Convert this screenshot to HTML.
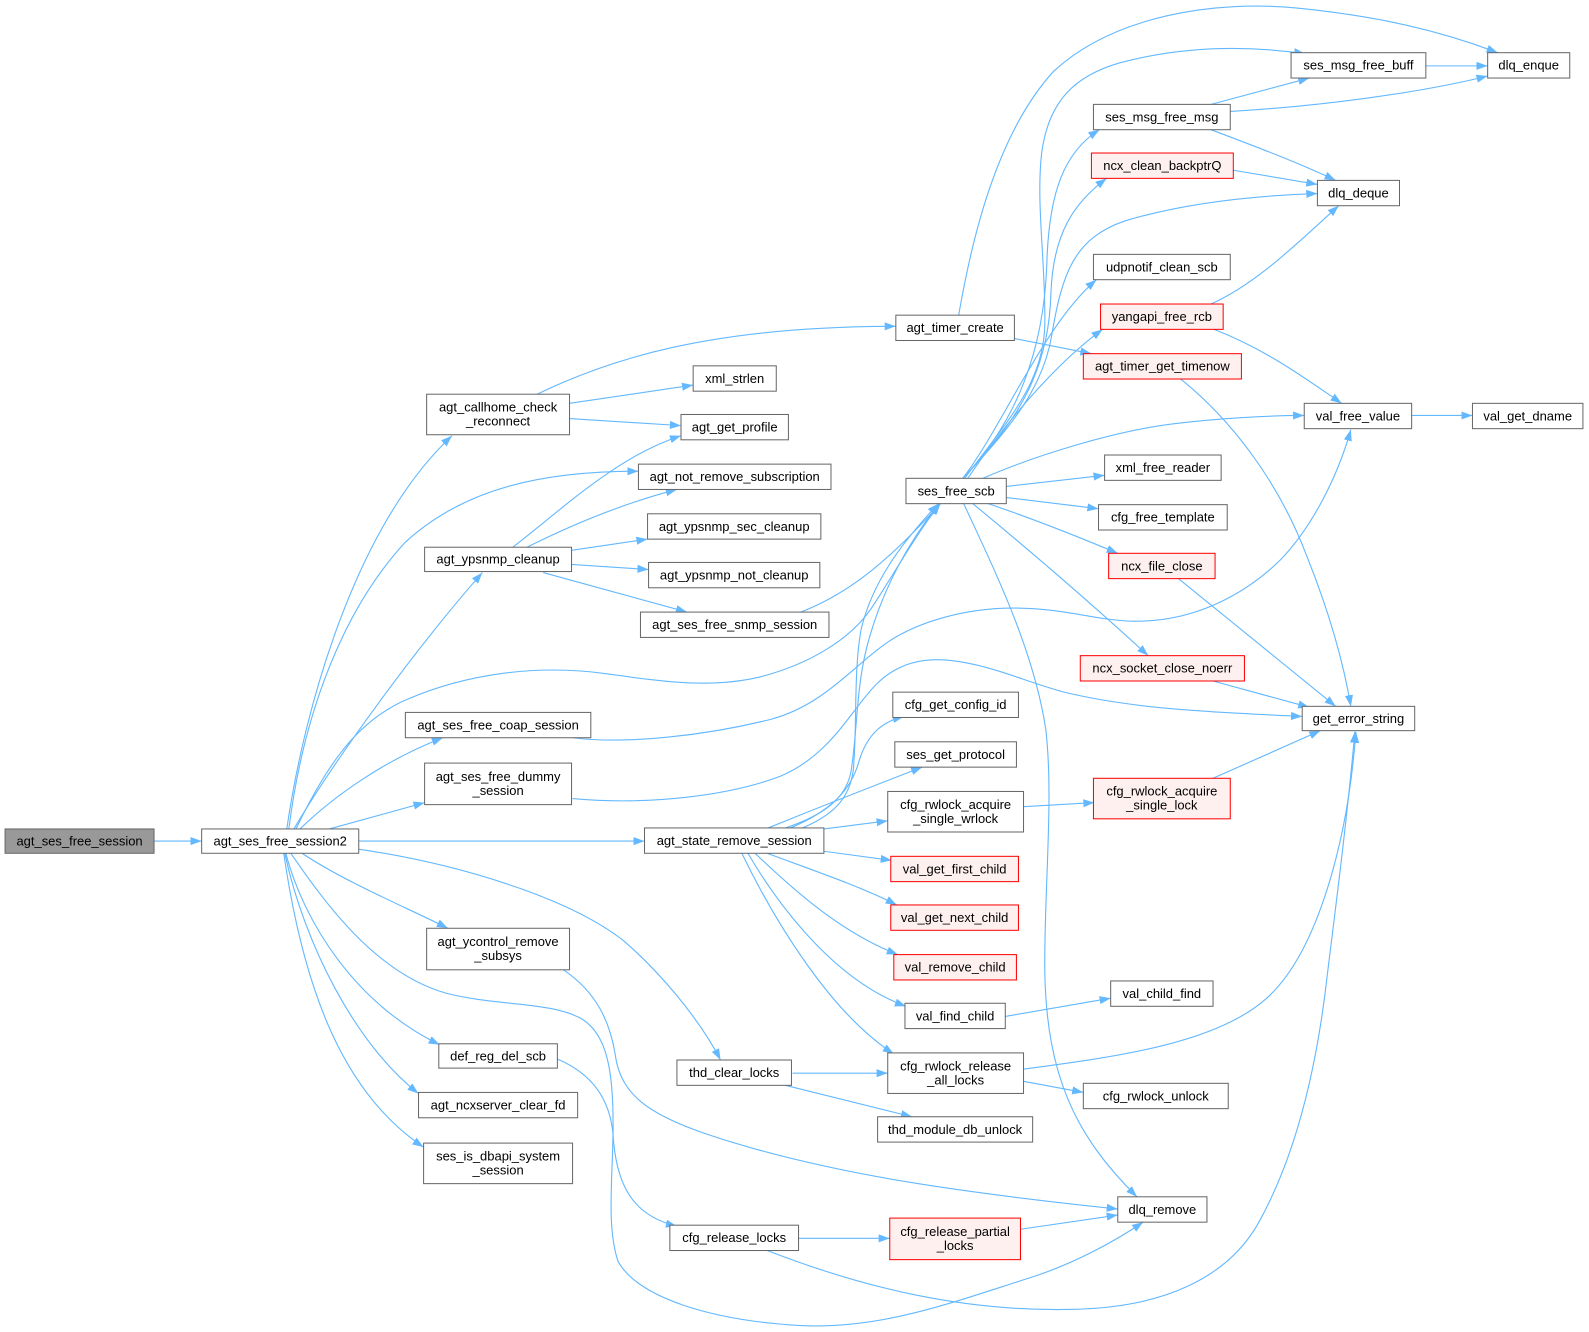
<!DOCTYPE html>
<html><head><meta charset="utf-8"><style>
html,body{margin:0;padding:0;background:#fff;}
svg{display:block;}
text{font-family:"Liberation Sans",Arial,sans-serif;font-size:12.8px;fill:#000;text-anchor:middle;}
.n{fill:#fff;stroke:#666;stroke-width:1;}
.r{fill:#fff0f0;stroke:#ff0000;stroke-width:1;}
.g{fill:#999;stroke:#666;stroke-width:1;}
.e{fill:none;stroke:#63b8ff;stroke-width:1.1;marker-end:url(#a);}
</style></head><body>
<svg width="1589" height="1332" viewBox="0 0 1568 1314.4" preserveAspectRatio="none" xmlns="http://www.w3.org/2000/svg">
<defs><marker id="a" markerWidth="12" markerHeight="9" refX="11" refY="4" orient="auto" markerUnits="userSpaceOnUse"><path d="M0,0 L11,4 L0,8 z" fill="#63b8ff"/></marker></defs>
<g>
<path class="e" d="M152,830 L199,830"/>
<path class="e" d="M283,818 C300,700 350,520 446,430"/>
<path class="e" d="M285,818 C300,700 340,600 400,535 C460,480 540,465 630,465"/>
<path class="e" d="M290,818 C330,750 410,640 476,565"/>
<path class="e" d="M292,818 C320,760 350,712 402,690 C460,665 530,655 600,665 C650,672 700,680 750,668 C800,655 840,630 860,600 C880,570 905,525 928,497"/>
<path class="e" d="M296,818 C330,785 380,750 437,728"/>
<path class="e" d="M325,818 L419,792"/>
<path class="e" d="M354,830 L636,830"/>
<path class="e" d="M354,838 C450,852 560,885 615,928 C650,958 690,1005 711,1046"/>
<path class="e" d="M298,842 C340,870 400,895 442,916"/>
<path class="e" d="M287,842 C320,890 370,960 440,980 C490,993 545,988 575,1006 C600,1022 605,1060 605,1110 C605,1160 598,1210 610,1245 C630,1280 700,1303 790,1308 C870,1312 940,1285 1016,1261 C1060,1247 1100,1225 1128,1206"/>
<path class="e" d="M282,842 C300,910 350,990 434,1031"/>
<path class="e" d="M281,842 C300,930 350,1030 413,1079"/>
<path class="e" d="M280,842 C300,980 340,1080 418,1132"/>
<path class="e" d="M530,389 C600,355 700,322 884,322"/>
<path class="e" d="M562,398 L684,380"/>
<path class="e" d="M562,413 L672,420"/>
<path class="e" d="M506,540 C560,498 610,450 672,430"/>
<path class="e" d="M520,540 C560,520 610,498 668,483"/>
<path class="e" d="M564,543 L639,532"/>
<path class="e" d="M564,557 L640,562"/>
<path class="e" d="M536,565 L678,604"/>
<path class="e" d="M790,604 C840,585 880,550 928,497"/>
<path class="e" d="M565,728 C620,735 700,725 760,710 C810,697 840,660 870,638 C900,615 950,600 1000,600 C1050,600 1080,612 1118,613 C1180,614 1230,585 1263,553 C1295,520 1320,470 1333,424"/>
<path class="e" d="M565,788 C640,795 720,785 770,766 C820,745 840,700 865,675 C885,655 910,648 940,652 C980,657 1010,672 1050,683 C1120,700 1200,703 1285,707"/>
<path class="e" d="M775,817 C810,805 835,790 840,760 C846,720 845,680 855,640 C870,580 900,530 927,497"/>
<path class="e" d="M792,817 C820,805 838,790 842,760 C846,720 842,660 850,620 C862,570 895,530 926,497"/>
<path class="e" d="M780,817 C820,800 840,780 848,750 C856,725 870,712 892,707"/>
<path class="e" d="M758,817 C800,800 850,780 910,757"/>
<path class="e" d="M813,818 L876,810"/>
<path class="e" d="M813,840 L880,849"/>
<path class="e" d="M757,842 C800,858 850,875 885,893"/>
<path class="e" d="M745,842 C785,880 830,920 886,942"/>
<path class="e" d="M738,842 C775,905 830,970 894,993"/>
<path class="e" d="M732,842 C765,910 820,1000 882,1040"/>
<path class="e" d="M952,472 C990,420 1030,380 1031,320 C1032,260 1022,200 1028,150 C1035,100 1060,75 1105,62 C1150,50 1210,42 1288,53"/>
<path class="e" d="M950,472 C1000,420 1030,350 1033,260 C1035,190 1050,150 1085,128"/>
<path class="e" d="M950,472 C1000,420 1035,370 1037,290 C1039,230 1060,200 1092,176"/>
<path class="e" d="M950,472 C1000,420 1030,380 1038,330 C1048,270 1060,235 1110,218 C1170,200 1240,193 1300,191"/>
<path class="e" d="M950,472 C990,420 1030,320 1082,276"/>
<path class="e" d="M955,472 C990,420 1040,360 1088,325"/>
<path class="e" d="M970,472 C1020,450 1100,425 1160,418 C1200,413 1250,410 1287,410"/>
<path class="e" d="M993,480 L1090,469"/>
<path class="e" d="M993,491 L1084,502"/>
<path class="e" d="M975,497 C1020,512 1060,528 1103,546"/>
<path class="e" d="M960,497 C1000,530 1060,580 1133,647"/>
<path class="e" d="M951,497 C980,560 1020,640 1032,720 C1040,790 1030,880 1031,960 C1033,1060 1060,1120 1122,1181"/>
<path class="e" d="M1195,300 C1240,280 1280,240 1321,203"/>
<path class="e" d="M1198,325 C1250,345 1290,375 1324,398"/>
<path class="e" d="M1195,103 L1292,77"/>
<path class="e" d="M1214,110 C1300,105 1400,92 1468,75"/>
<path class="e" d="M1195,128 C1240,145 1280,160 1318,178"/>
<path class="e" d="M1217,168 L1300,182"/>
<path class="e" d="M1407,65 L1468,65"/>
<path class="e" d="M946,311 C960,230 985,130 1040,70 C1100,15 1200,0 1280,8 C1360,16 1420,30 1478,52"/>
<path class="e" d="M1001,334 L1077,349"/>
<path class="e" d="M1165,374 C1210,410 1260,470 1290,550 C1310,600 1325,650 1333,697"/>
<path class="e" d="M1163,571 L1318,697"/>
<path class="e" d="M1197,672 L1292,698"/>
<path class="e" d="M1197,768 L1303,721"/>
<path class="e" d="M1010,1055 C1100,1043 1200,1030 1250,985 C1300,940 1330,830 1338,722"/>
<path class="e" d="M757,1234 C850,1270 950,1295 1060,1292 C1150,1290 1210,1260 1240,1210 C1280,1140 1300,1050 1310,960 C1320,880 1330,800 1337,722"/>
<path class="e" d="M1010,796 L1080,792"/>
<path class="e" d="M992,1003 L1096,985"/>
<path class="e" d="M782,1059 L876,1059"/>
<path class="e" d="M775,1071 L900,1102"/>
<path class="e" d="M1010,1067 L1069,1078"/>
<path class="e" d="M788,1222 L878,1222"/>
<path class="e" d="M1007,1213 L1103,1199"/>
<path class="e" d="M1393,410 L1453,410"/>
<path class="e" d="M556,957 C590,980 602,1010 607,1040 C612,1080 640,1100 700,1120 C820,1160 960,1178 1103,1193"/>
<path class="e" d="M550,1045 C585,1060 602,1085 605,1120 C608,1170 625,1200 668,1210"/>
</g>
<g>
<rect class="g" x="5" y="818" width="147" height="24"/><text x="78.5" y="834.3">agt_ses_free_session</text>
<rect class="n" x="199" y="818" width="155" height="24"/><text x="276.5" y="834.3">agt_ses_free_session2</text>
<rect class="n" x="421" y="389" width="141" height="40"/><text x="491.5" y="406.2">agt_callhome_check</text><text x="491.5" y="420">_reconnect</text>
<rect class="n" x="419" y="540" width="145" height="24"/><text x="491.5" y="556.3">agt_ypsnmp_cleanup</text>
<rect class="n" x="400" y="703" width="183" height="25"/><text x="491.5" y="719.8">agt_ses_free_coap_session</text>
<rect class="n" x="419" y="753" width="145" height="41"/><text x="491.5" y="770.7">agt_ses_free_dummy</text><text x="491.5" y="784.5">_session</text>
<rect class="n" x="421" y="916" width="141" height="41"/><text x="491.5" y="933.7">agt_ycontrol_remove</text><text x="491.5" y="947.5">_subsys</text>
<rect class="n" x="433" y="1030" width="117" height="24"/><text x="491.5" y="1046.3">def_reg_del_scb</text>
<rect class="n" x="413" y="1078" width="157" height="25"/><text x="491.5" y="1094.8">agt_ncxserver_clear_fd</text>
<rect class="n" x="418" y="1128" width="147" height="40"/><text x="491.5" y="1145.2">ses_is_dbapi_system</text><text x="491.5" y="1159">_session</text>
<rect class="n" x="884" y="311" width="117" height="25"/><text x="942.5" y="327.8">agt_timer_create</text>
<rect class="n" x="684" y="361" width="82" height="25"/><text x="725" y="377.8">xml_strlen</text>
<rect class="n" x="672" y="409" width="106" height="25"/><text x="725" y="425.8">agt_get_profile</text>
<rect class="n" x="630" y="458" width="190" height="25"/><text x="725" y="474.8">agt_not_remove_subscription</text>
<rect class="n" x="639" y="507" width="171" height="25"/><text x="724.5" y="523.8">agt_ypsnmp_sec_cleanup</text>
<rect class="n" x="640" y="555" width="169" height="25"/><text x="724.5" y="571.8">agt_ypsnmp_not_cleanup</text>
<rect class="n" x="632" y="604" width="186" height="25"/><text x="725" y="620.8">agt_ses_free_snmp_session</text>
<rect class="n" x="636" y="817" width="177" height="25"/><text x="724.5" y="833.8">agt_state_remove_session</text>
<rect class="n" x="668" y="1046" width="113" height="25"/><text x="724.5" y="1062.8">thd_clear_locks</text>
<rect class="n" x="661" y="1209" width="127" height="25"/><text x="724.5" y="1225.8">cfg_release_locks</text>
<rect class="n" x="894" y="472" width="99" height="25"/><text x="943.5" y="488.8">ses_free_scb</text>
<rect class="n" x="881" y="683" width="124" height="25"/><text x="943" y="699.8">cfg_get_config_id</text>
<rect class="n" x="883" y="732" width="120" height="25"/><text x="943" y="748.8">ses_get_protocol</text>
<rect class="n" x="876" y="781" width="134" height="40"/><text x="943" y="798.2">cfg_rwlock_acquire</text><text x="943" y="812">_single_wrlock</text>
<rect class="r" x="879" y="845" width="126" height="25"/><text x="942" y="861.8">val_get_first_child</text>
<rect class="r" x="879" y="893" width="126" height="25"/><text x="942" y="909.8">val_get_next_child</text>
<rect class="r" x="882" y="942" width="121" height="25"/><text x="942.5" y="958.8">val_remove_child</text>
<rect class="n" x="893" y="990" width="99" height="25"/><text x="942.5" y="1006.8">val_find_child</text>
<rect class="n" x="876" y="1039" width="134" height="40"/><text x="943" y="1056.2">cfg_rwlock_release</text><text x="943" y="1070">_all_locks</text>
<rect class="n" x="866" y="1102" width="153" height="25"/><text x="942.5" y="1118.8">thd_module_db_unlock</text>
<rect class="n" x="1079" y="103" width="135" height="25"/><text x="1146.5" y="119.8">ses_msg_free_msg</text>
<rect class="n" x="1274" y="52" width="133" height="25"/><text x="1340.5" y="68.8">ses_msg_free_buff</text>
<rect class="n" x="1468" y="52" width="81" height="25"/><text x="1508.5" y="68.8">dlq_enque</text>
<rect class="r" x="1077" y="151" width="140" height="25"/><text x="1147" y="167.8">ncx_clean_backptrQ</text>
<rect class="n" x="1300" y="178" width="81" height="25"/><text x="1340.5" y="194.8">dlq_deque</text>
<rect class="n" x="1079" y="251" width="135" height="25"/><text x="1146.5" y="267.8">udpnotif_clean_scb</text>
<rect class="r" x="1086" y="300" width="121" height="25"/><text x="1146.5" y="316.8">yangapi_free_rcb</text>
<rect class="r" x="1069" y="349" width="156" height="25"/><text x="1147" y="365.8">agt_timer_get_timenow</text>
<rect class="n" x="1287" y="398" width="106" height="25"/><text x="1340" y="414.8">val_free_value</text>
<rect class="n" x="1453" y="398" width="109" height="25"/><text x="1507.5" y="414.8">val_get_dname</text>
<rect class="n" x="1090" y="449" width="115" height="25"/><text x="1147.5" y="465.8">xml_free_reader</text>
<rect class="n" x="1084" y="498" width="127" height="25"/><text x="1147.5" y="514.8">cfg_free_template</text>
<rect class="r" x="1094" y="546" width="105" height="25"/><text x="1146.5" y="562.8">ncx_file_close</text>
<rect class="r" x="1066" y="647" width="162" height="25"/><text x="1147" y="663.8">ncx_socket_close_noerr</text>
<rect class="n" x="1285" y="697" width="111" height="24"/><text x="1340.5" y="713.3">get_error_string</text>
<rect class="r" x="1079" y="768" width="135" height="40"/><text x="1146.5" y="785.2">cfg_rwlock_acquire</text><text x="1146.5" y="799">_single_lock</text>
<rect class="n" x="1096" y="968" width="101" height="25"/><text x="1146.5" y="984.8">val_child_find</text>
<rect class="n" x="1069" y="1069" width="143" height="25"/><text x="1140.5" y="1085.8">cfg_rwlock_unlock</text>
<rect class="n" x="1103" y="1181" width="88" height="25"/><text x="1147" y="1197.8">dlq_remove</text>
<rect class="r" x="878" y="1202" width="129" height="41"/><text x="942.5" y="1219.7">cfg_release_partial</text><text x="942.5" y="1233.5">_locks</text>
</g>
</svg>
</body></html>
